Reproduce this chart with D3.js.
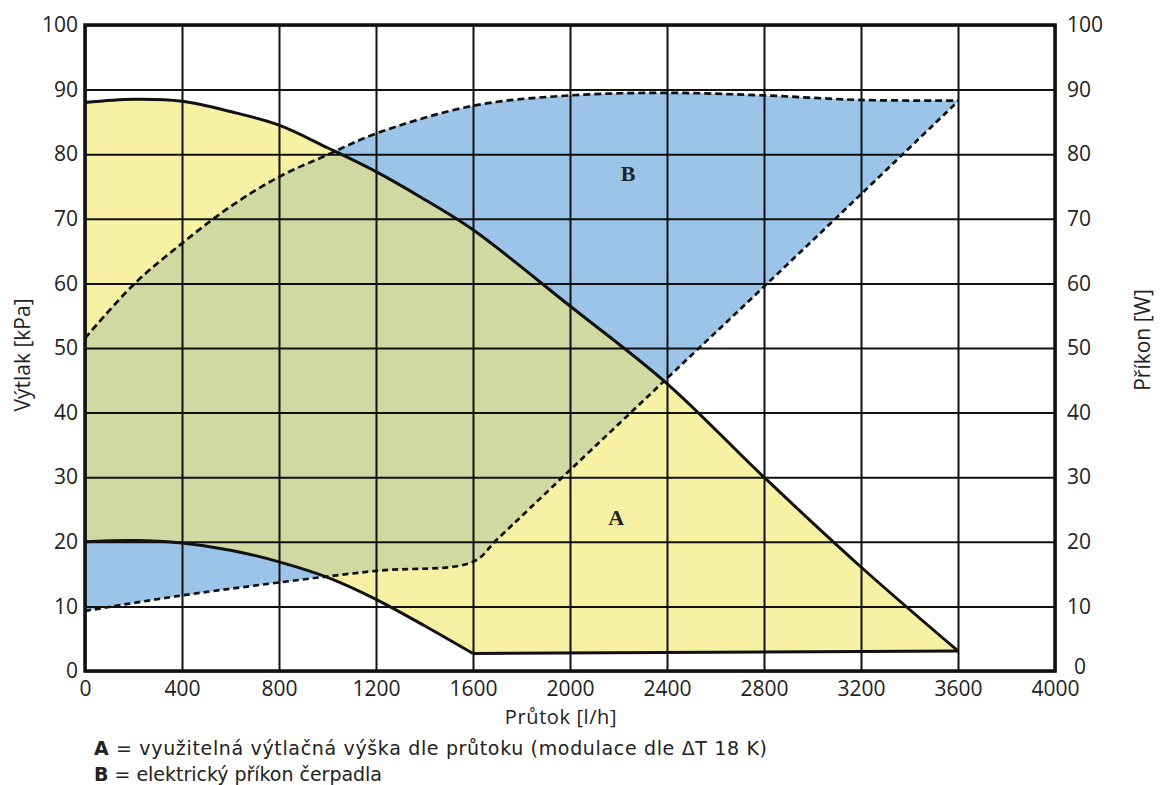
<!DOCTYPE html>
<html lang="cs">
<head>
<meta charset="UTF-8">
<title>Výtlak a příkon čerpadla</title>
<script src="https://d3js.org/d3.v7.min.js"></script>
<style>
  body { margin: 0; background: #fff; }
  svg text { fill: #222; }
</style>
</head>
<body>
<script>
// axis ticks
var flowTicks = [0, 400, 800, 1200, 1600, 2000, 2400, 2800, 3200, 3600, 4000];
var valueTicks = [0, 10, 20, 30, 40, 50, 60, 70, 80, 90, 100];

// A - usable head [kPa], upper boundary (max pump curve)
var headMax = [[0, 88], [200, 88.5], [400, 88.2], [600, 86.6], [800, 84.5], [1000, 81.0],
  [1200, 77.3], [1400, 73.0], [1600, 68.3], [2000, 56.5], [2400, 44.5], [2800, 30.0],
  [3200, 16.1], [3600, 3.1]];
// A - lower boundary (min pump curve, then bottom limit)
var headMin = [[0, 20], [200, 20.2], [400, 19.8], [600, 18.7], [800, 16.9], [1000, 14.5],
  [1200, 11.1], [1400, 7.0], [1600, 2.7]];
var headBottom = [[1600, 2.7], [3600, 3.1]];

// B - electrical power [W]
var powerMax = [[0, 51.5], [200, 59.8], [400, 66.2], [600, 71.9], [800, 76.5], [1000, 79.9],
  [1200, 83.2], [1600, 87.5], [2000, 89.1], [2400, 89.5], [2800, 89.1], [3200, 88.4], [3600, 88.3]];
var powerMin = [[0, 9.3], [400, 11.7], [800, 13.7], [1200, 15.5], [1600, 16.9], [1700, 20.4],
  [2000, 31.1], [2400, 45.3], [2800, 59.5], [3200, 73.8], [3600, 88.2]];

var W = 1161, H = 785;
var svg = d3.select("body").append("svg")
    .attr("width", W)
    .attr("height", H)
    .style("font-family", "'Open Sans', sans-serif");

var x = d3.scaleLinear().domain([0, 4000]).range([85, 1055]);
var y = d3.scaleLinear().domain([0, 100]).range([671, 25]);

var line = d3.line()
    .x(function(d) { return x(d[0]); })
    .y(function(d) { return y(d[1]); })
    .curve(d3.curveCatmullRom.alpha(0.5));
var straight = d3.line()
    .x(function(d) { return x(d[0]); })
    .y(function(d) { return y(d[1]); });

// closed outline: upper edge left->right, lower edge right->left
function outline(upper, lower) {
  var back = lower.slice().reverse();
  return line(upper) + line(back).replace(/^M/, "L") + "Z";
}

var areaA = line(headMax) + straight(headBottom.slice().reverse()).replace(/^M/, "L")
    + line(headMin.slice().reverse()).replace(/^M/, "L") + "Z";
var areaB = outline(powerMax, powerMin);

svg.append("clipPath").attr("id", "clipA")
  .append("path").attr("d", areaA);

svg.append("path").attr("d", areaA).attr("fill", "#f6f1a3");
svg.append("path").attr("d", areaB).attr("fill", "#9bc4e8");
svg.append("path").attr("d", areaB).attr("fill", "#cfd9a1").attr("clip-path", "url(#clipA)");

// grid + left / bottom / right labels
var fmt = d3.format("d");
var gy = svg.append("g").attr("transform", "translate(85,0)")
    .call(d3.axisLeft(y).tickValues(valueTicks).tickFormat(fmt).tickSize(-970).tickPadding(7));
var gx = svg.append("g").attr("transform", "translate(0,671)")
    .call(d3.axisBottom(x).tickValues(flowTicks).tickFormat(fmt).tickSize(-646).tickPadding(10));
var gr = svg.append("g").attr("transform", "translate(1055,0)")
    .call(d3.axisRight(y).tickValues(valueTicks).tickFormat(fmt).tickSize(0).tickPadding(12));

[gy, gx, gr].forEach(function(g) {
  g.select(".domain").remove();
  g.selectAll(".tick line").attr("stroke", "#111").attr("stroke-width", 2);
  g.selectAll(".tick text").style("font-size", "21px").style("font-family", "'Open Sans', sans-serif").attr("fill", "#222");
});
// right-hand zero sits a little right and up, clear of the 4000 label
gr.selectAll(".tick").filter(function(d) { return d === 0; })
  .select("text").attr("dx", 7).attr("dy", "0.1em");

// frame
svg.append("rect")
    .attr("x", 85).attr("y", 25).attr("width", 970).attr("height", 646)
    .attr("fill", "none").attr("stroke", "#111").attr("stroke-width", 3.5);

// curves
svg.append("path").attr("d", line(headMax))
    .attr("fill", "none").attr("stroke", "#111").attr("stroke-width", 3);
svg.append("path").attr("d", line(headMin))
    .attr("fill", "none").attr("stroke", "#111").attr("stroke-width", 3);
svg.append("path").attr("d", straight(headBottom))
    .attr("fill", "none").attr("stroke", "#111").attr("stroke-width", 3);
svg.append("path").attr("d", line(powerMax))
    .attr("fill", "none").attr("stroke", "#111").attr("stroke-width", 2.7)
    .attr("stroke-dasharray", "7,4");
svg.append("path").attr("d", line(powerMin))
    .attr("fill", "none").attr("stroke", "#111").attr("stroke-width", 2.7)
    .attr("stroke-dasharray", "6,4");

// region letters
svg.append("text").attr("x", x(2190)).attr("y", y(22.6))
    .attr("text-anchor", "middle")
    .style("font-family", "'Liberation Serif', serif").style("font-weight", "bold").style("font-size", "22px")
    .text("A");
svg.append("text").attr("x", x(2240)).attr("y", y(75.8))
    .attr("text-anchor", "middle")
    .style("font-family", "'Liberation Serif', serif").style("font-weight", "bold").style("font-size", "22px")
    .text("B");

// axis titles
svg.append("text").attr("transform", "translate(30,355) rotate(-90)")
    .attr("text-anchor", "middle").style("font-size", "21px").text("Výtlak [kPa]");
svg.append("text").attr("transform", "translate(1150,340) rotate(-90)")
    .attr("text-anchor", "middle").style("font-size", "21px").text("Příkon [W]");
svg.append("text").attr("x", 561).attr("y", 724)
    .attr("text-anchor", "middle").style("font-size", "20px").style("letter-spacing", "0.6px")
    .text("Průtok [l/h]");

// legend
var legend = [
  ["A", " = využitelná výtlačná výška dle průtoku (modulace dle ΔT 18 K)", 673],
  ["B", " = elektrický příkon čerpadla", 288]
];
legend.forEach(function(row, i) {
  var t = svg.append("text").attr("x", 94).attr("y", 755 + i * 26)
      .attr("textLength", row[2]).attr("lengthAdjust", "spacing")
      .style("font-family", "'DejaVu Sans', sans-serif").style("font-size", "19px");
  t.append("tspan").style("font-weight", "bold").text(row[0]);
  t.append("tspan").text(row[1]);
});
</script>
</body>
</html>
